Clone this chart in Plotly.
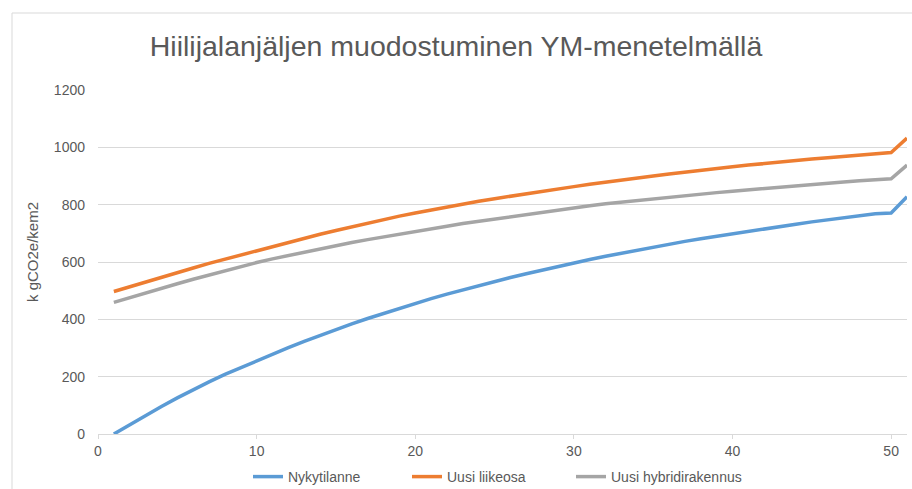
import plotly.graph_objects as go

years = list(range(1, 52))

nykytilanne = [0, 33, 65, 96, 126, 155, 182, 208, 232, 255,
               278, 301, 323, 344, 364, 384, 403, 421, 439, 456,
               472, 488, 503, 518, 532, 546, 559, 572, 585, 597,
               609, 620, 631, 642, 652, 662, 672, 681, 690, 699,
               708, 716, 724, 732, 740, 747, 754, 761, 768, 771,
               828]

uusi_liikeosa = [497, 514, 531, 547, 563, 579, 595, 610, 625, 640,
                 655, 669, 683, 697, 710, 723, 736, 748, 760, 771,
                 782, 792, 802, 812, 821, 830, 839, 847, 855, 863,
                 871, 879, 886, 893, 900, 907, 914, 920, 926, 932,
                 938, 944, 949, 954, 959, 964, 969, 974, 979, 982,
                 1032]

uusi_hybridi = [459, 476, 492, 508, 524, 540, 555, 570, 584, 598,
                611, 623, 635, 646, 657, 668, 678, 688, 698, 707,
                716, 725, 734, 742, 750, 758, 766, 774, 782, 789,
                796, 803, 809, 815, 821, 827, 832, 837, 842, 847,
                852, 857, 862, 867, 871, 875, 879, 883, 887, 890,
                938]

series_names = ["Nykytilanne", "Uusi liikeosa", "Uusi hybridirakennus"]
series_colors = ["#5B9BD5", "#ED7D31", "#A5A5A5"]
series_values = [nykytilanne, uusi_liikeosa, uusi_hybridi]
legend_ids = ["legend", "legend2", "legend3"]

x_ticks = [0, 10, 20, 30, 40, 50]
y_ticks = [0, 200, 400, 600, 800, 1000, 1200]

FONT = "Liberation Sans"
TXT = "#595959"

W, H = 912, 489
ml, mr, mt, mb = 98, 5, 90, 55
pw, ph = W - ml - mr, H - mt - mb


def px_to_paper_x(px):
    return (px - ml) / pw


def py_to_paper_y(py):
    return (H - mb - py) / ph


fig = go.Figure()
for name, color, vals, lg in zip(series_names, series_colors, series_values, legend_ids):
    fig.add_trace(go.Scatter(x=years, y=vals, mode="lines", name=name,
                             legend=lg, line=dict(color=color, width=3.5)))

legend_left_px = [248, 407, 571]
legend_common = dict(orientation="h", yanchor="middle", xanchor="left",
                     y=py_to_paper_y(477), font=dict(family=FONT, size=14, color=TXT),
                     itemwidth=30, bgcolor="rgba(0,0,0,0)", borderwidth=0)

layout_legends = {}
for lg, lx in zip(legend_ids, legend_left_px):
    layout_legends[lg] = dict(legend_common, x=px_to_paper_x(lx))

fig.update_layout(
    width=W, height=H,
    margin=dict(l=ml, r=mr, t=mt, b=mb, pad=0, autoexpand=False),
    paper_bgcolor="white", plot_bgcolor="white",
    font=dict(family=FONT, color=TXT),
    title=dict(text="Hiilijalanjäljen muodostuminen YM-menetelmällä",
               x=0.5, xanchor="center", y=1 - 46 / H, yanchor="middle",
               font=dict(family=FONT, size=28.5, color="#595959")),
    showlegend=True,
    xaxis=dict(range=[0, 51], tickvals=x_ticks, showgrid=False,
               showline=True, linecolor="#D9D9D9", linewidth=1,
               ticks="outside", ticklen=4, tickcolor="#D9D9D9",
               tickfont=dict(family=FONT, size=14, color=TXT),
               zeroline=False, fixedrange=True, automargin=False),
    yaxis=dict(range=[0, 1200], tickvals=y_ticks, showgrid=True,
               gridcolor="#D9D9D9", gridwidth=1, zeroline=False,
               showline=False, ticks="", ticklabelstandoff=12,
               tickfont=dict(family=FONT, size=14, color=TXT),
               fixedrange=True, automargin=False),
    annotations=[
        dict(text="k gCO2e/kem2", textangle=-90, showarrow=False,
             xref="paper", yref="paper", x=px_to_paper_x(33), y=py_to_paper_y(252),
             xanchor="center", yanchor="middle",
             font=dict(family=FONT, size=15, color=TXT)),
    ],
    shapes=[
        dict(type="line", xref="paper", yref="paper",
             x0=px_to_paper_x(12), x1=px_to_paper_x(12),
             y0=py_to_paper_y(13), y1=py_to_paper_y(495),
             line=dict(color="#D9D9D9", width=1), layer="below"),
        dict(type="line", xref="paper", yref="paper",
             x0=px_to_paper_x(12), x1=px_to_paper_x(920),
             y0=py_to_paper_y(13), y1=py_to_paper_y(13),
             line=dict(color="#D9D9D9", width=1), layer="below"),
    ],
    **layout_legends,
)

fig.write_html(
    "out.html",
    config={"displayModeBar": False, "staticPlot": False},
    post_script="document.body.style.margin='0';document.body.style.padding='0';"
                "document.documentElement.style.overflow='hidden';",
)
